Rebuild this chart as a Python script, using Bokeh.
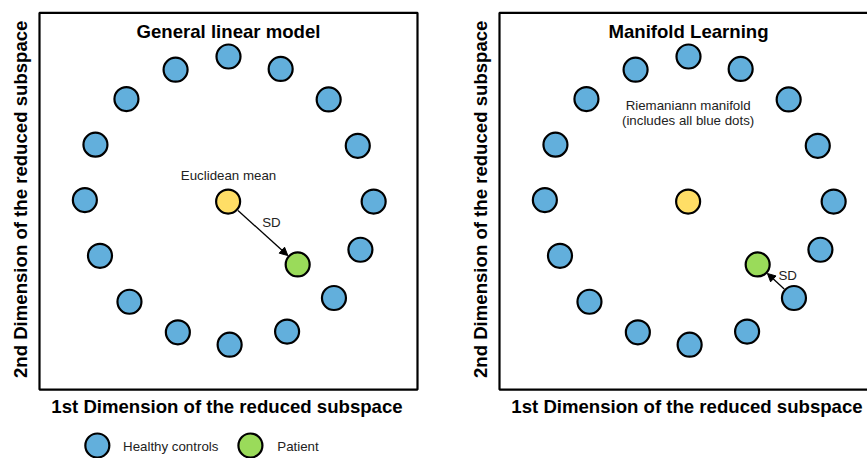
import math
from bokeh.plotting import figure
from bokeh.models import Range1d, Label, Arrow, NormalHead
from bokeh.layouts import row
from bokeh.embed import file_html
from bokeh.resources import INLINE

# ---------------- data ----------------
panel_titles = ["General linear model", "Manifold Learning"]
x_axis_label = "1st Dimension of the reduced subspace"
y_axis_label = "2nd Dimension of the reduced subspace"
legend_labels = ["Healthy controls", "Patient"]
mean_label = "Euclidean mean"
sd_label = "SD"
manifold_label = ["Riemaniann manifold", "(includes all blue dots)"]

# healthy controls (blue dots), in units of the reduced subspace (box = 0..10)
healthy_x = [5.00, 3.60, 6.38, 2.30, 7.65, 1.48, 8.42, 1.20, 8.84, 1.60, 8.49, 2.38, 7.79, 3.66, 6.55, 5.03]
healthy_y = [8.84, 8.49, 8.51, 7.71, 7.70, 6.50, 6.47, 5.03, 4.99, 3.55, 3.71, 2.33, 2.43, 1.52, 1.54, 1.19]
mean_x = [4.99]
mean_y = [4.99]
patient_x = [6.83]
patient_y = [3.32]
nearest_control = 12  # healthy control the manifold SD arrow starts from

# ---------------- style ----------------
BLUE = "#62AFDC"
YELLOW = "#FFDE66"
GREEN = "#9ADB5A"
FONT = "Liberation Sans"
PX_X = 37.8
PX_Y = 37.7
H = 458
BOX_L = 39
BOX_T = 12.3
BOX_B = 389
DOT = 24
DOT_LW = 2.2
R_DATA = 13.3 / PX_X
SMALL = "13.3px"


def lbl(x, y, text, size=SMALL, bold=False, align="center", angle=0.0, color="#222222"):
    return Label(x=x, y=y, text=text, text_font=FONT, text_font_size=size,
                 text_font_style="bold" if bold else "normal",
                 text_align=align, text_baseline="middle", angle=angle,
                 text_color=color)


def make_panel(width, title, mode):
    p = figure(width=width, height=H,
               x_range=Range1d(-BOX_L / PX_X, (width - BOX_L) / PX_X),
               y_range=Range1d(-(H - BOX_B) / PX_Y, 10 + BOX_T / PX_Y),
               output_backend="svg", toolbar_location=None,
               x_axis_location=None, y_axis_location=None,
               min_border=0)
    p.grid.visible = False
    p.outline_line_color = None
    p.background_fill_color = "white"
    p.border_fill_color = "white"

    # frame box of the reduced subspace
    p.rect(x=5, y=5, width=10, height=10, fill_color=None,
           line_color="black", line_width=2.2)

    p.scatter(healthy_x, healthy_y, size=DOT, fill_color=BLUE,
              line_color="black", line_width=DOT_LW)
    p.scatter(mean_x, mean_y, size=DOT, fill_color=YELLOW,
              line_color="black", line_width=DOT_LW)
    p.scatter(patient_x, patient_y, size=DOT, fill_color=GREEN,
              line_color="black", line_width=DOT_LW)

    # title inside box, axis labels
    p.add_layout(lbl(5.0, 9.504, title, size="18.6px", bold=True, color="black"))
    p.add_layout(lbl(4.96, -0.46, x_axis_label, size="18.6px", bold=True, color="black"))
    p.add_layout(lbl(-0.503, 5.05, y_axis_label, size="18.6px", bold=True,
                     angle=math.pi / 2, color="black"))

    if mode == "glm":
        sx, sy = mean_x[0], mean_y[0]
        ex, ey = patient_x[0], patient_y[0]
        p.add_layout(lbl(5.0, 5.69, mean_label))
        p.add_layout(lbl(5.89, 4.438, sd_label, align="left"))
    else:
        sx, sy = healthy_x[nearest_control], healthy_y[nearest_control]
        ex, ey = patient_x[0], patient_y[0]
        p.add_layout(lbl(4.99, 7.546, manifold_label[0]))
        p.add_layout(lbl(4.99, 7.14, manifold_label[1]))
        p.add_layout(lbl(7.38, 3.016, sd_label, align="left"))

    d = math.hypot(ex - sx, ey - sy)
    ux, uy = (ex - sx) / d, (ey - sy) / d
    p.add_layout(Arrow(end=NormalHead(size=8, fill_color="black",
                                      line_color="black", line_width=1),
                       x_start=sx + ux * R_DATA, y_start=sy + uy * R_DATA,
                       x_end=ex - ux * R_DATA, y_end=ey - uy * R_DATA,
                       line_color="black", line_width=1.3))
    return p


left = make_panel(460, panel_titles[0], "glm")
right = make_panel(407, panel_titles[1], "manifold")

# legend (below the left panel)
leg_y = -1.485
left.scatter([1.53], [leg_y], size=DOT, fill_color=BLUE, line_color="black", line_width=DOT_LW)
left.scatter([5.58], [leg_y], size=DOT, fill_color=GREEN, line_color="black", line_width=DOT_LW)
left.add_layout(lbl(2.21, -1.504, legend_labels[0], align="left"))
left.add_layout(lbl(6.29, -1.504, legend_labels[1], align="left"))

layout = row(left, right)
open("out.html", "w").write(file_html(layout, INLINE))
